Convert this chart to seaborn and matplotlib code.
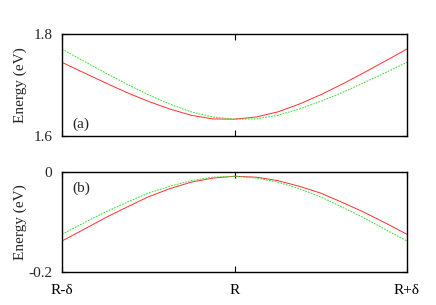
import numpy as np
import pandas as pd
import matplotlib
matplotlib.use("Agg")
import matplotlib.pyplot as plt
import seaborn as sns

# k from R-delta to R+delta (in units of delta)
k = [-1.0, -0.875, -0.75, -0.625, -0.5, -0.375, -0.25, -0.125, 0.0,
     0.125, 0.25, 0.375, 0.5, 0.625, 0.75, 0.875, 1.0]

# panel (a), energies in eV
a_red = [1.7445, 1.7243, 1.7045, 1.6853, 1.6680, 1.6529, 1.6405, 1.6335, 1.6330,
         1.6372, 1.6472, 1.6625, 1.6810, 1.7018, 1.7241, 1.7471, 1.7706]
a_green = [1.7706, 1.7471, 1.7241, 1.7018, 1.6810, 1.6625, 1.6472, 1.6372, 1.6330,
           1.6335, 1.6405, 1.6529, 1.6680, 1.6853, 1.7045, 1.7243, 1.7445]

# panel (b)
b_red = [-0.1376, -0.1150, -0.0918, -0.0707, -0.0503, -0.0340, -0.0210, -0.0130, -0.0095,
         -0.0112, -0.0180, -0.0292, -0.0428, -0.0612, -0.0805, -0.1020, -0.1244]
b_green = [-0.1244, -0.1020, -0.0805, -0.0612, -0.0428, -0.0292, -0.0180, -0.0112, -0.0095,
           -0.0130, -0.0210, -0.0340, -0.0503, -0.0707, -0.0918, -0.1150, -0.1376]

xticks = [-1.0, 0.0, 1.0]
xticklabels = ["R-δ", "R", "R+δ"]

sns.set_style("white")
plt.rcParams['font.family'] = ['Liberation Serif', 'DejaVu Serif']

fig = plt.figure(figsize=(4.36, 3.05), dpi=100)
ax1 = fig.add_axes([0.1422, 0.5541, 0.7913, 0.3344])
ax2 = fig.add_axes([0.1422, 0.1066, 0.7913, 0.3311])

def draw(ax, red, green, ylim, yticks, yticklabels, tag, tag_y, show_x):
    df = pd.DataFrame({'k': k, 'red': red, 'green': green})
    sns.lineplot(data=df, x='k', y='red', ax=ax, color='#ff3030', lw=0.7)
    sns.lineplot(data=df, x='k', y='green', ax=ax, color='#30e030', lw=0.7,
                 linestyle=(0, (1.8, 1.2)))
    ax.set_xlim(-1, 1)
    ax.set_ylim(*ylim)
    ax.set_yticks(yticks)
    ax.set_yticklabels(yticklabels)
    ax.set_xticks(xticks)
    if show_x:
        ax.set_xticklabels(xticklabels)
    else:
        ax.set_xticklabels([])
    ax.tick_params(axis='x', direction='in', length=4, width=0.8, top=True,
                   bottom=True, pad=8, labelsize=11, colors='black')
    ax.tick_params(axis='y', direction='in', length=4, width=0.8, right=True,
                   left=True, pad=7, labelsize=11)
    for s in ax.spines.values():
        s.set_color('black')
        s.set_linewidth(1.0)
    ax.set_xlabel('')
    ax.set_ylabel('Energy (eV)', fontsize=11)
    ax.yaxis.set_label_coords(-0.1, 0.5)
    ax.text(0.03, tag_y, tag, transform=ax.transAxes, fontsize=11,
            va='center', ha='left')

draw(ax1, a_red, a_green, (1.6, 1.8), [1.6, 1.8], ['1.6', '1.8'], '(a)', 0.12, False)
draw(ax2, b_red, b_green, (-0.2, 0.0), [-0.2, 0.0], ['-0.2', '0'], '(b)', 0.83, True)

fig.savefig('out.png', dpi=100)
